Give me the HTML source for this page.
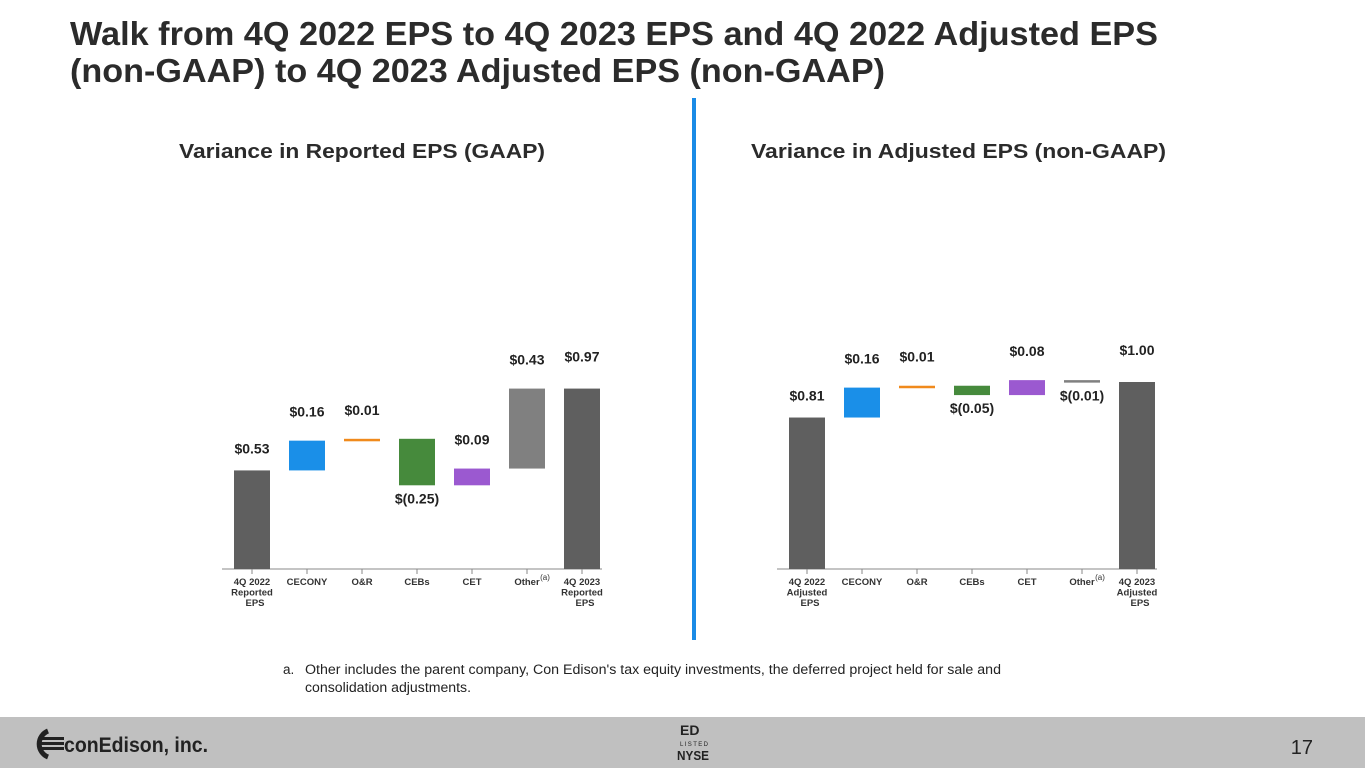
<!DOCTYPE html>
<html><head><meta charset="utf-8"><style>
body{margin:0;background:#fff;}
svg{display:block;font-family:"Liberation Sans",Arial,sans-serif;}
</style></head><body>
<svg id="s" width="1365" height="768" viewBox="0 0 1365 768">
<text x="70" y="45" font-size="33" font-weight="bold" fill="#2b2b2b" textLength="1088" lengthAdjust="spacingAndGlyphs">Walk from 4Q 2022 EPS to 4Q 2023 EPS and 4Q 2022 Adjusted EPS</text>
<text x="70" y="82" font-size="33" font-weight="bold" fill="#2b2b2b" textLength="815" lengthAdjust="spacingAndGlyphs">(non-GAAP) to 4Q 2023 Adjusted EPS (non-GAAP)</text>
<text x="179" y="158" font-size="20" font-weight="bold" fill="#2b2b2b" textLength="366" lengthAdjust="spacingAndGlyphs">Variance in Reported EPS (GAAP)</text>
<text x="751" y="158" font-size="20" font-weight="bold" fill="#2b2b2b" textLength="415" lengthAdjust="spacingAndGlyphs">Variance in Adjusted EPS (non-GAAP)</text>
<rect x="692" y="98" width="4" height="542" fill="#1a8be6"/>
<g id="left"></g>
<g id="right"></g>
<text x="283" y="674" font-size="13.5" fill="#222">a.</text>
<text x="305" y="674" font-size="13.5" fill="#222" textLength="696" lengthAdjust="spacingAndGlyphs">Other includes the parent company, Con Edison's tax equity investments, the deferred project held for sale and</text>
<text x="305" y="692" font-size="13.5" fill="#222" textLength="166" lengthAdjust="spacingAndGlyphs">consolidation adjustments.</text>
<rect x="0" y="717" width="1365" height="51" fill="#c0c0c0"/>
<g>
<path d="M48 731 A14 14 0 0 0 48 757" fill="none" stroke="#222" stroke-width="5"/>
<rect x="40" y="737" width="24" height="3" fill="#222"/><rect x="40" y="742" width="24" height="3" fill="#222"/><rect x="40" y="747" width="24" height="3" fill="#222"/>
<text x="64" y="752" font-size="21" font-weight="bold" fill="#222" textLength="144" lengthAdjust="spacingAndGlyphs">conEdison, inc.</text>
</g>
<g>
<text x="680" y="735" font-size="14" font-weight="bold" fill="#222">ED</text>
<text x="680" y="746" font-size="6" fill="#222" textLength="28" lengthAdjust="spacing">LISTED</text>
<text x="677" y="760" font-size="13" font-weight="bold" fill="#222" textLength="32" lengthAdjust="spacingAndGlyphs">NYSE</text>
</g>
<text x="1313" y="754" font-size="20" fill="#222" text-anchor="end">17</text>
</svg>
<script>
const leftCats=[["4Q 2022","Reported","EPS"],["CECONY"],["O&R"],["CEBs"],["CET"],["Other"],["4Q 2023","Reported","EPS"]];
const leftStart=0.53;
const leftDeltas=[0.16,0.01,-0.25,0.09,0.43];
const leftEnd=0.97;
const rightCats=[["4Q 2022","Adjusted","EPS"],["CECONY"],["O&R"],["CEBs"],["CET"],["Other"],["4Q 2023","Adjusted","EPS"]];
const rightStart=0.81;
const rightDeltas=[0.16,0.01,-0.05,0.08,-0.01];
const rightEnd=1.00;
const stepColors=["#1a8fe8","#f08a1c","#468a3c","#9b59d0","#808080"];
const NS="http://www.w3.org/2000/svg";
function mk(tag,attrs,parent){const e=document.createElementNS(NS,tag);for(const k in attrs)e.setAttribute(k,attrs[k]);parent.appendChild(e);return e;}
function fmt(v){const a=Math.abs(v).toFixed(2);return v<0?"$("+a+")":"$"+a;}
function draw(g,x0,cats,start,deltas,end,scale){
  const base=569,step=55,bw=36;
  const y=v=>base-v*scale;
  const cx=i=>x0+i*step;
  const ax=mk("line",{x1:cx(0)-30,x2:cx(6)+20,y1:base,y2:base,stroke:"#888","stroke-width":1},g);
  
  
  cats.forEach((c,i)=>{
    const t=mk("line",{x1:cx(i),x2:cx(i),y1:base,y2:base+5,stroke:"#888"},g);
    
    
    c.forEach((ln,j)=>{
      const tx=mk("text",{x:cx(i)+(j==2?3:0),y:base+16+j*10.5,"font-size":9.5,"font-weight":"bold",fill:"#333","text-anchor":"middle"},g);
      tx.textContent=ln;
      
      
    });
    if(c[0]==="Other"){const s=mk("text",{x:cx(i)+18,y:base+11,"font-size":8,fill:"#333","text-anchor":"middle"},g);s.textContent="(a)";
      
      }
  });
  function label(i,v,yy){const t=mk("text",{x:cx(i),y:yy,"font-size":14,"font-weight":"bold",fill:"#222","text-anchor":"middle"},g);t.textContent=fmt(v);
    
    }
  let r=mk("rect",{x:cx(0)-bw/2,y:y(start),width:bw,height:start*scale,fill:"#5f5f5f"},g);
  
  
  label(0,start,y(start)-17);
  let cum=start;
  deltas.forEach((d,k)=>{
    const i=k+1,a=cum,b=cum+d;
    const top=y(Math.max(a,b)),h=Math.max(Math.abs(d)*scale,2.5);
    const rr=mk("rect",{x:cx(i)-bw/2,y:top,width:bw,height:h,fill:stepColors[k]},g);
    
    
    if(d>=0)label(i,d,top-24);else label(i,d,top+h+18);
    cum=b;
  });
  r=mk("rect",{x:cx(6)-bw/2,y:y(end),width:bw,height:end*scale,fill:"#5f5f5f"},g);
  
  
  label(6,end,y(end)-27);
}
draw(document.getElementById("left"),252,leftCats,leftStart,leftDeltas,leftEnd,186);
draw(document.getElementById("right"),807,rightCats,rightStart,rightDeltas,rightEnd,187);
</script>
</body></html>
